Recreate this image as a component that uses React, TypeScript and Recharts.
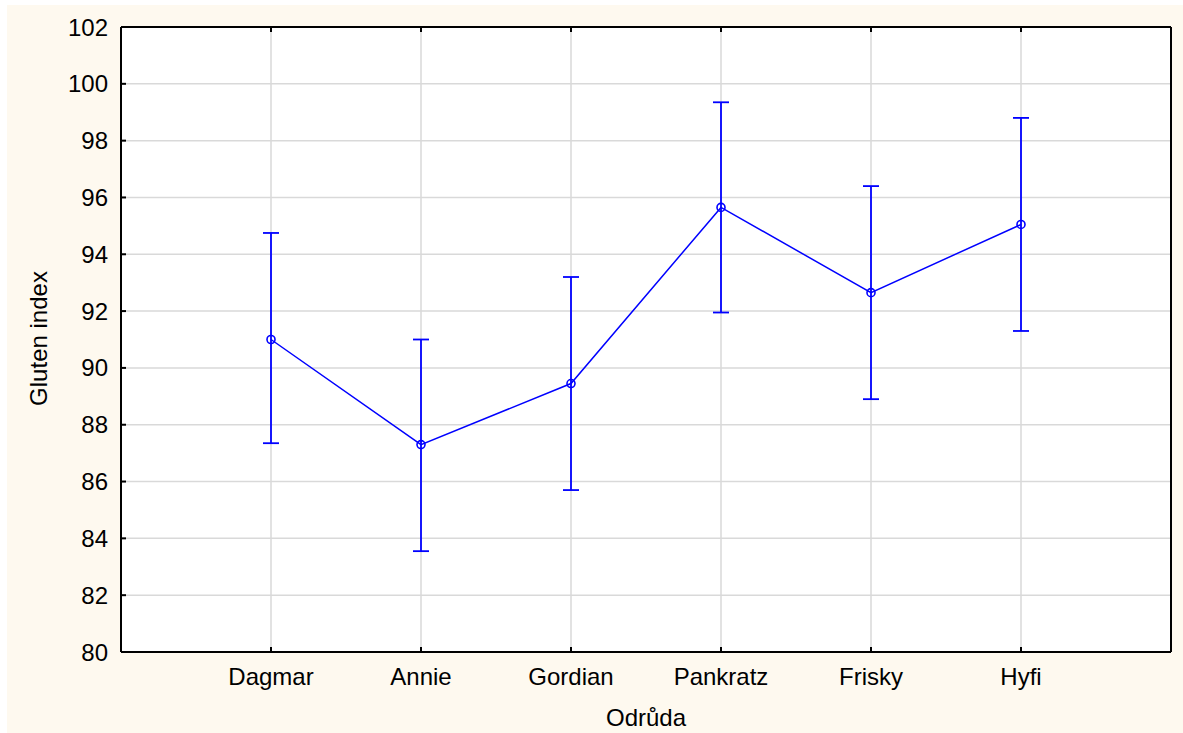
import React from 'react';
import { ComposedChart, Line, XAxis, YAxis, CartesianGrid, ErrorBar, Label } from 'recharts';

const categories = ['Dagmar', 'Annie', 'Gordian', 'Pankratz', 'Frisky', 'Hyfi'];
const means = [91.0, 87.3, 89.45, 95.65, 92.65, 95.05];
const upper = [94.75, 91.0, 93.2, 99.35, 96.4, 98.8];
const lower = [87.35, 83.55, 85.7, 91.95, 88.9, 91.3];
const yTicks = [80, 82, 84, 86, 88, 90, 92, 94, 96, 98, 100, 102];

const data = categories.map((c, i) => ({
  name: c,
  mean: means[i],
  err: [means[i] - lower[i], upper[i] - means[i]],
}));

const FONT = '"Liberation Sans", Arial, sans-serif';
const BLUE = '#0000ff';
const tickStyle = { fill: '#000', fontSize: 24, fontFamily: FONT };
const axisStroke = { stroke: '#000', strokeWidth: 2 };
const noLabel = () => <g />;

export default function App() {
  return (
    <div style={{ position: 'absolute', left: 7, top: 5, width: 1176, height: 728, background: '#fef9ef' }}>
      <ComposedChart width={1176} height={728} data={data} margin={{ top: 21, right: 11, left: 0, bottom: 0 }}>
        <CartesianGrid stroke="#d9d9d9" strokeWidth={1.5} fill="#ffffff" xAxisId="b" yAxisId="l" />
        <XAxis
          xAxisId="b"
          dataKey="name"
          type="category"
          padding={{ left: 150, right: 150 }}
          height={81}
          axisLine={axisStroke}
          tickLine={axisStroke}
          tickSize={-5}
          tickMargin={21}
          tick={tickStyle}
          interval={0}
        >
          <Label
            content={(props: any) => {
              const vb = props.viewBox;
              return (
                <text x={vb.x + vb.width / 2} y={vb.y + 74} textAnchor="middle" fontSize={24} fontFamily={FONT} fill="#000">
                  Odrůda
                </text>
              );
            }}
          />
        </XAxis>
        <XAxis
          xAxisId="t"
          orientation="top"
          dataKey="name"
          type="category"
          padding={{ left: 150, right: 150 }}
          height={1}
          axisLine={axisStroke}
          tickLine={axisStroke}
          tickSize={-5}
          tick={noLabel}
          interval={0}
        />
        <YAxis
          yAxisId="l"
          domain={[80, 102]}
          ticks={yTicks}
          width={114}
          axisLine={axisStroke}
          tickLine={axisStroke}
          tickSize={-5}
          tickMargin={18}
          tick={tickStyle}
          interval={0}
        >
          <Label
            content={(props: any) => {
              const vb = props.viewBox;
              const cx = vb.x + 40;
              const cy = vb.y + vb.height / 2 - 1;
              return (
                <text x={cx} y={cy} transform={`rotate(-90, ${cx}, ${cy})`} textAnchor="middle" fontSize={24} fontFamily={FONT} fill="#000">
                  Gluten index
                </text>
              );
            }}
          />
        </YAxis>
        <YAxis
          yAxisId="r"
          orientation="right"
          domain={[80, 102]}
          ticks={yTicks}
          width={1}
          axisLine={axisStroke}
          tickLine={axisStroke}
          tickSize={-5}
          tick={noLabel}
          interval={0}
        />
        <Line
          xAxisId="b"
          yAxisId="l"
          dataKey="mean"
          type="linear"
          stroke={BLUE}
          strokeWidth={1.5}
          dot={{ r: 4, stroke: BLUE, strokeWidth: 1.6, fill: 'none' }}
          activeDot={false}
          isAnimationActive={false}
        >
          <ErrorBar dataKey="err" direction="y" width={8} stroke={BLUE} strokeWidth={1.8} isAnimationActive={false} />
        </Line>
      </ComposedChart>
    </div>
  );
}
